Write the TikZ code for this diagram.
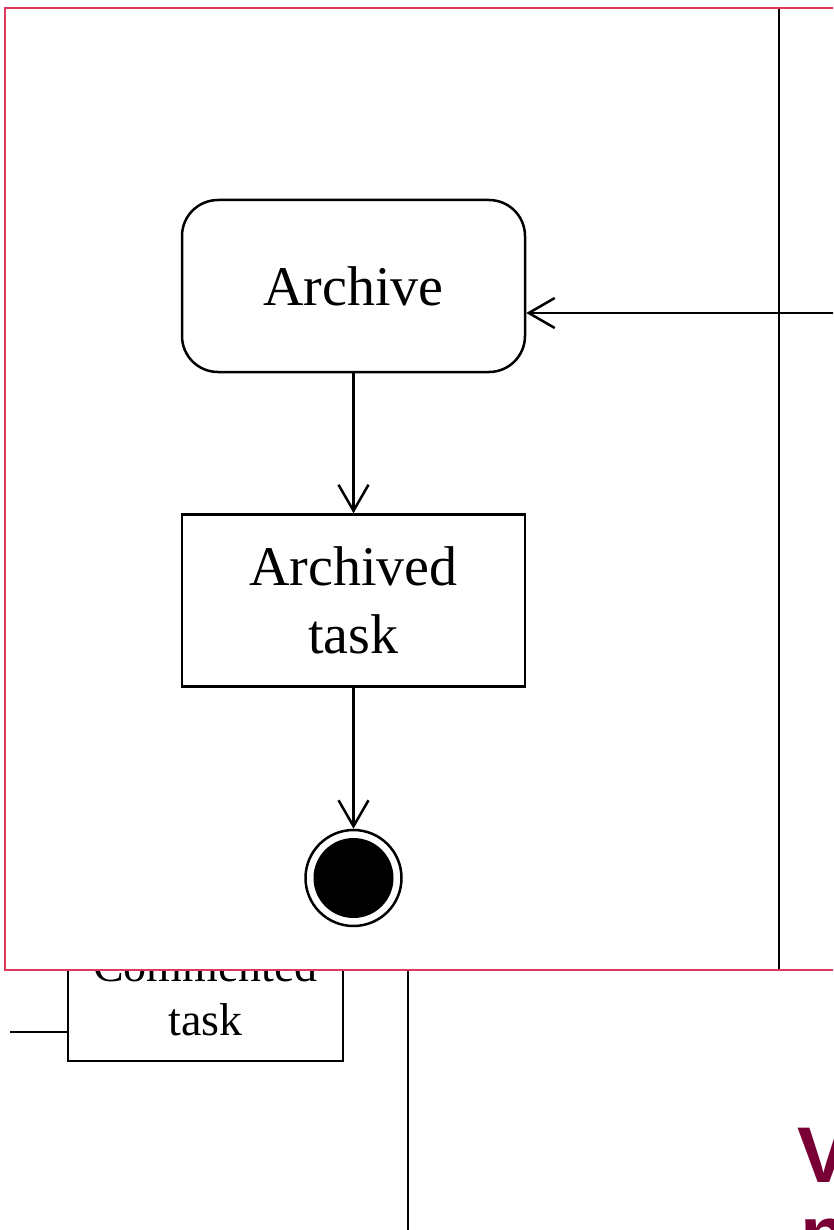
\documentclass[tikz,border=0pt]{standalone}
\usepackage{fontspec}
\setmainfont{Liberation Serif}
\newfontfamily\titlefont{Liberation Sans}
\usetikzlibrary{positioning, arrows.meta}
\definecolor{framered}{RGB}{224,56,92}
\definecolor{titlered}{RGB}{120,0,52}

\begin{document}
\begin{tikzpicture}[x=1pt, y=1pt,
	flow/.style={-{Straight Barb[length=26pt, width=30pt]}, line width=2.5pt},
	state/.style={draw, line width=2.5pt, minimum width=343pt, minimum height=172pt,
	              align=center, font=\fontsize{56}{68}\selectfont}]
	\useasboundingbox (0,0) rectangle (833,-1230);
	\clip (0,0) rectangle (833,-1230);

	% diagram behind the zoom frame
	\begin{scope}[every node/.style={draw, line width=2pt, align=center, font=\fontsize{46}{54}\selectfont}]
	\node [minimum width=275pt, minimum height=136pt, anchor=south west] (com) at (67,-1062) {Commented\\task};
	\end{scope}
	\coordinate (lin) at (10,-1032);
	\coordinate (lnt) at (408,-900);
	\coordinate (lnb) at (408,-1240);
	\draw [line width=2pt] (lin) -- (lin -| com.west);
	\draw [line width=2.6pt] (lnt) -- (lnb);

	\begin{scope}[every node/.style={anchor=base west, inner sep=0, text=titlered,
	              font=\titlefont\bfseries\fontsize{79}{79}\selectfont}]
	\node (ttl)  at (797,-1182) {V};
	\node (ttl2) at (800,-1261) {n};
	\end{scope}

	% zoom frame
	\draw [framered, line width=2pt, fill=white] (5,-8) rectangle (845,-970);
	\coordinate (lt) at (779,-9);
	\coordinate (lb) at (779,-969);
	\draw [line width=2.8pt] (lt) -- (lb);

	\node [state, rounded corners=36pt] (arc) at (353.5,-286) {Archive};
	\node [state, below=140pt of arc]     (tsk) {Archived\\task};
	\node [draw, circle, line width=2.5pt, minimum size=96pt, inner sep=0, below=141pt of tsk] (end) {};
	\node [circle, fill=black, minimum size=80pt, inner sep=0] (dot) at (end) {};
	\coordinate (inc) at (845,-313);
	\draw [flow] (arc) -- (tsk);
	\draw [flow] (tsk) -- (end);
	\draw [flow] (inc) -- (inc -| arc.east);
\end{tikzpicture}
\end{document}
